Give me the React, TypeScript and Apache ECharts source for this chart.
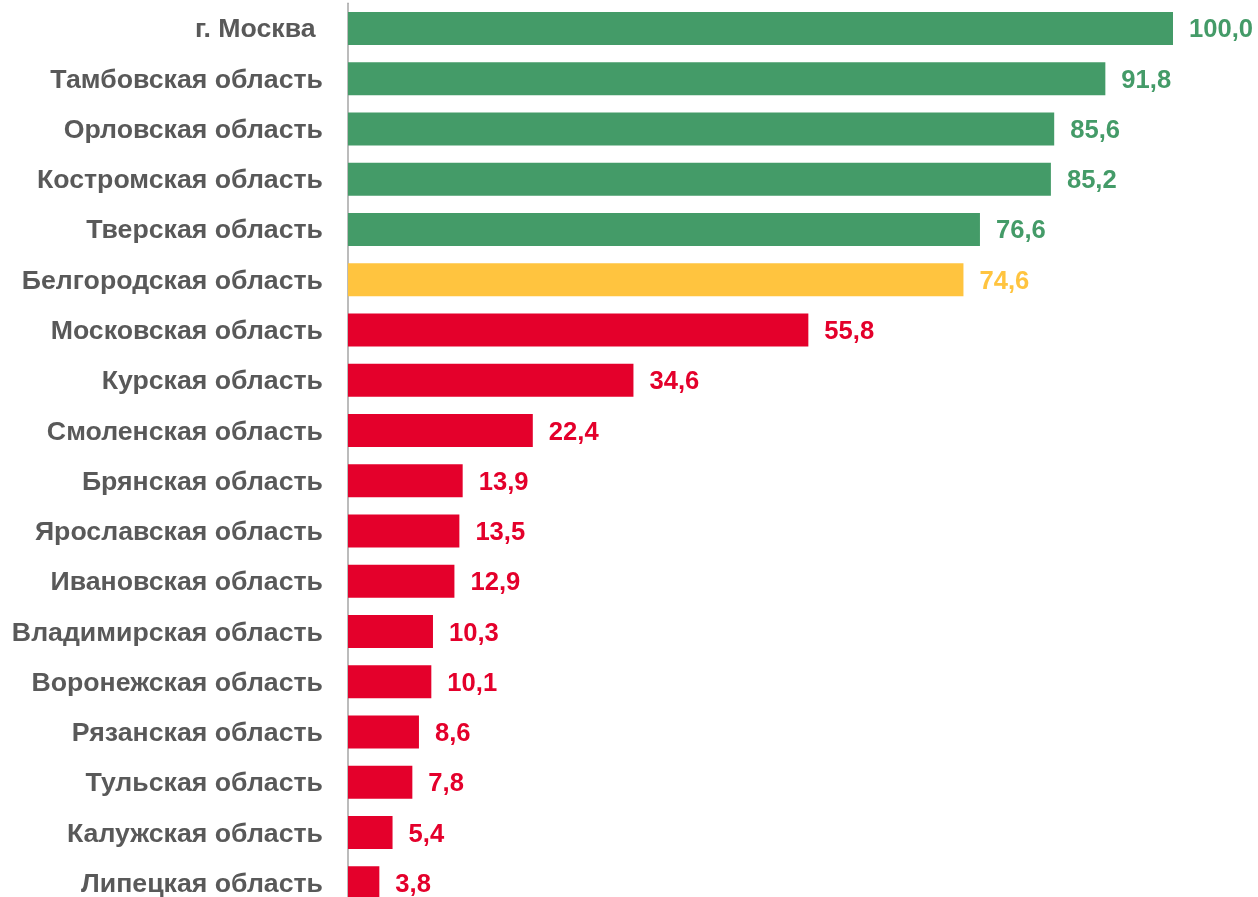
import React, { useEffect, useRef } from "react";
import * as echarts from "echarts";

const categories = [
  "г. Москва ",
  "Тамбовская область",
  "Орловская область",
  "Костромская область",
  "Тверская область",
  "Белгородская область",
  "Московская область",
  "Курская область",
  "Смоленская область",
  "Брянская область",
  "Ярославская область",
  "Ивановская область",
  "Владимирская область",
  "Воронежская область",
  "Рязанская область",
  "Тульская область",
  "Калужская область",
  "Липецкая область",
];
const values = [100.0, 91.8, 85.6, 85.2, 76.6, 74.6, 55.8, 34.6, 22.4, 13.9, 13.5, 12.9, 10.3, 10.1, 8.6, 7.8, 5.4, 3.8];
const groups = ["g", "g", "g", "g", "g", "y", "r", "r", "r", "r", "r", "r", "r", "r", "r", "r", "r", "r"];
const palette: Record<string, string> = { g: "#449B68", y: "#FFC43F", r: "#E4002B" };

export default function App() {
  const ref = useRef<HTMLDivElement>(null);
  useEffect(() => {
    document.body.style.margin = "0";
    const chart = echarts.init(ref.current!, undefined, { renderer: "svg" });
    chart.setOption({
      animation: false,
      grid: { left: 348, right: 85, top: 3.3, bottom: 0, containLabel: false },
      xAxis: {
        type: "value",
        min: 0,
        max: 100,
        show: false,
      },
      yAxis: {
        type: "category",
        inverse: true,
        data: categories,
        axisLine: { show: true, lineStyle: { color: "#A6A6A6", width: 1.5 } },
        axisTick: { show: false },
        axisLabel: {
          margin: 25,
          fontFamily: "Liberation Sans, Arial, sans-serif",
          fontWeight: "bold",
          fontSize: 26.7,
          color: "#595959",
        },
      },
      series: [
        {
          type: "bar",
          barWidth: 33,
          data: values.map((v, i) => ({
            value: v,
            itemStyle: { color: palette[groups[i]] },
            label: { color: palette[groups[i]] },
          })),
          label: {
            show: true,
            position: "right",
            distance: 16,
            fontFamily: "Liberation Sans, Arial, sans-serif",
            fontWeight: "bold",
            fontSize: 25.6,
            formatter: (p: any) => p.value.toFixed(1).replace(".", ","),
          },
        },
      ],
    });
    return () => chart.dispose();
  }, []);
  return (
    <div style={{ position: "fixed", left: 0, top: 0, width: 1258, height: 897, overflow: "hidden" }}>
      <div ref={ref} style={{ width: 1258, height: 908 }} />
    </div>
  );
}
